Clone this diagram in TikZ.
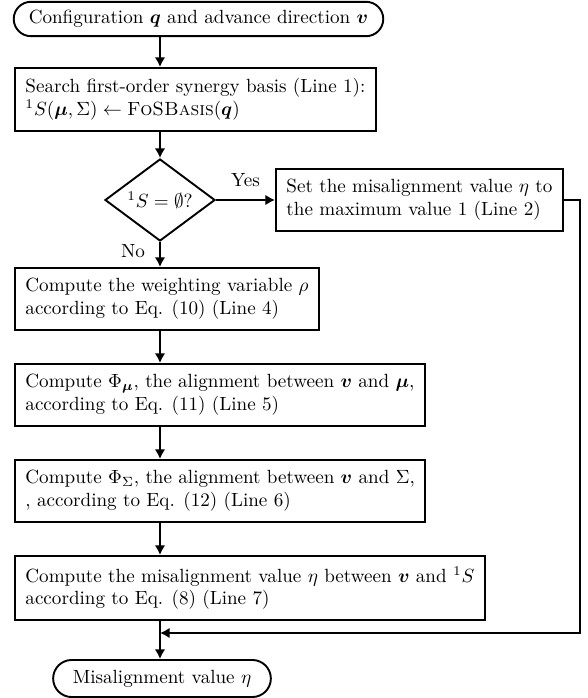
\documentclass[tikz,border=0pt]{standalone}
\usepackage{amsmath,bm}
\usetikzlibrary{shapes.geometric,shapes.misc,arrows.meta}
\begin{document}
\begin{tikzpicture}[x=0.5236pt,y=-0.5236pt]
\tikzset{boite/.style={draw, line width=1pt, align=left, inner sep=5.5pt, anchor=north west}}
\tikzset{terminal/.style={draw, line width=1pt, rounded rectangle, inner sep=3pt}}
\tikzset{losange/.style={draw, line width=1pt, diamond, inner sep=0pt, minimum width=57.6pt, minimum height=36pt}}
\tikzset{fleche/.style={line width=1pt, -{Latex[length=5pt,width=5.5pt]}}}
\useasboundingbox (0,0) rectangle (587,698);
\node[terminal, minimum width=199.5pt, minimum height=18pt] (T1) at (198.5,19) {Configuration $\bm{q}$ and advance direction $\bm{v}$};
\node[boite] (B1) at (14,67) {Search first-order synergy basis (Line 1):\\${}^1S(\bm{\mu},\Sigma) \leftarrow \textsc{FoSBasis}(\bm{q})$};
\node[losange] (L) at (160,200) {${}^1S=\emptyset?$};
\node[boite, anchor=west] (B2) at (275,200) {Set the misalignment value $\eta$ to\\the maximum value 1 (Line 2)};
\node[boite] (B3) at (14,267) {Compute the weighting variable $\rho$\\according to Eq. (10) (Line 4)};
\node[boite] (B4) at (14,363) {Compute $\Phi_{\bm{\mu}}$, the alignment between $\bm{v}$ and $\bm{\mu}$,\\according to Eq. (11) (Line 5)};
\node[boite] (B5) at (14,459) {Compute $\Phi_\Sigma$, the alignment between $\bm{v}$ and $\Sigma$,\\, according to Eq. (12) (Line 6)};
\node[boite] (B6) at (14,555) {Compute the misalignment value $\eta$ between $\bm{v}$ and ${}^1S$\\according to Eq. (8) (Line 7)};
\node[terminal, minimum width=120pt, minimum height=19.4pt] (T2) at (162,678.5) {Misalignment value $\eta$};
\coordinate (R) at (580,633);
\draw[fleche] (T1.south -| L) -- (B1.north -| L);
\draw[fleche] (B1.south -| L) -- (L.north);
\draw[fleche] (L.east) -- node[above=3pt] {Yes} (B2.west);
\draw[fleche] (L.south) -- node[left=4pt, pos=0.35] {No} (B3.north -| L);
\draw[fleche] (B3.south -| L) -- (B4.north -| L);
\draw[fleche] (B4.south -| L) -- (B5.north -| L);
\draw[fleche] (B5.south -| L) -- (B6.north -| L);
\draw[fleche] (B6.south -| L) -- (T2.north -| L);
\draw[fleche] (B2.east) -| (R) -- (R -| L);
\end{tikzpicture}
\end{document}
